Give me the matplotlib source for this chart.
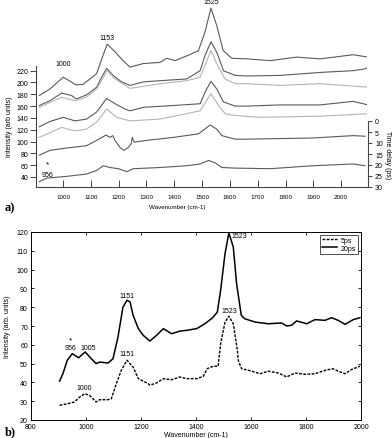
import numpy as np
import matplotlib
matplotlib.use("Agg")
from matplotlib import pyplot as plt

plt.rcParams['font.family'] = ['Liberation Sans', 'DejaVu Sans']

# ---- panel a: waterfall spectra (wavenumber, intensity incl. offset)
a_w1 = [915, 953, 1001, 1047, 1073, 1121, 1144, 1159, 1187, 1216, 1241, 1288, 1349, 1373,
        1403, 1450, 1487, 1511, 1532, 1553, 1576, 1607, 1661, 1745, 1841, 1924, 2043, 2097]
a_i1 = [178, 189, 209, 196, 197, 215, 246, 265, 252, 237, 226, 232, 234, 241,
        237, 246, 254, 286, 326, 296, 254, 241, 240, 237, 243, 240, 247, 243]
a_w2 = [915, 953, 995, 1031, 1047, 1085, 1121, 1139, 1157, 1180, 1211, 1241, 1289, 1349,
        1445, 1493, 1511, 1532, 1553, 1577, 1619, 1661, 1781, 1924, 2043, 2086, 2097]
a_i2 = [161, 169, 182, 178, 172, 179, 192, 209, 224, 212, 201, 195, 201, 203,
        206, 220, 246, 269, 251, 220, 212, 211, 212, 217, 220, 223, 226]
a_w3 = [915, 995, 1043, 1085, 1121, 1159, 1187, 1241, 1349, 1445, 1493, 1532, 1559, 1583,
        1619, 1661, 1781, 1924, 2097]
a_i3 = [158, 175, 169, 175, 189, 220, 206, 190, 198, 203, 209, 254, 226, 206,
        198, 198, 195, 198, 192]
a_w4 = [915, 953, 1001, 1043, 1085, 1121, 1157, 1187, 1223, 1241, 1289, 1397, 1493, 1511,
        1532, 1553, 1577, 1619, 1661, 1781, 1924, 2043, 2097]
a_i4 = [125, 134, 141, 135, 138, 150, 173, 164, 155, 152, 158, 161, 164, 184,
        202, 189, 167, 160, 160, 162, 162, 168, 162]
a_w5 = [915, 995, 1043, 1085, 1121, 1157, 1193, 1241, 1349, 1493, 1532, 1559, 1583, 1619,
        1709, 1924, 2097]
a_i5 = [107, 124, 118, 121, 133, 155, 141, 135, 138, 152, 181, 161, 147, 144,
        141, 143, 147]
a_w6 = [915, 953, 1013, 1085, 1121, 1155, 1169, 1179, 1187, 1205, 1219, 1235, 1245, 1249,
        1256, 1301, 1397, 1487, 1529, 1553, 1571, 1619, 1661, 1899, 2043, 2086]
a_i6 = [77, 85, 89, 93, 102, 111, 107, 110, 102, 90, 85, 90, 96, 107,
        99, 102, 107, 113, 128, 121, 110, 104, 104, 106, 110, 109]
a_w7 = [915, 941, 1013, 1085, 1121, 1145, 1169, 1199, 1229, 1253, 1349, 1445, 1493, 1523,
        1547, 1571, 1619, 1745, 1899, 2043, 2086]
a_i7 = [32, 38, 41, 45, 51, 59, 56, 54, 49, 54, 56, 59, 62, 68,
        64, 56, 55, 54, 59, 62, 59]

a_traces = [(a_w1, a_i1, 'dark'), (a_w2, a_i2, 'dark'), (a_w3, a_i3, 'light'),
            (a_w4, a_i4, 'dark'), (a_w5, a_i5, 'light'), (a_w6, a_i6, 'dark'),
            (a_w7, a_i7, 'dark')]
a_yticks = [40, 60, 80, 100, 120, 140, 160, 180, 200, 220]
a_xticks = [1000, 1100, 1200, 1300, 1400, 1500, 1600, 1700, 1800, 1900, 2000]
delay_ticks = [0, 5, 10, 15, 20, 25, 30]

# ---- panel b
b_w20 = [905, 917, 933, 951, 974, 998, 1020, 1038, 1051, 1081, 1099, 1117, 1135, 1150,
         1161, 1172, 1191, 1209, 1233, 1257, 1282, 1312, 1342, 1367, 1403, 1433, 1461, 1478,
         1490, 1506, 1520, 1536, 1548, 1565, 1577, 1615, 1662, 1712, 1730, 1748, 1766, 1803,
         1833, 1869, 1893, 1917, 1942, 1972, 1996]
b_i20 = [40.7, 44.6, 51.8, 55.3, 53.1, 56.2, 52.6, 50.0, 50.8, 50.3, 52.6, 64.0, 80.0, 83.7,
         82.8, 75.7, 68.6, 65.0, 62.0, 65.0, 68.6, 65.9, 67.3, 67.7, 68.6, 71.2, 74.4, 77.4,
         89.0, 108.5, 119.5, 112.0, 92.5, 75.7, 73.9, 72.1, 71.2, 71.6, 70.0, 70.4, 72.7, 71.2,
         73.4, 73.0, 74.4, 73.0, 70.9, 73.4, 74.4]
b_w5 = [905, 935, 959, 978, 996, 1014, 1038, 1051, 1081, 1093, 1111, 1129, 1150, 1172,
        1191, 1227, 1233, 1257, 1282, 1312, 1342, 1367, 1403, 1427, 1441, 1463, 1481, 1490,
        1506, 1520, 1536, 1551, 1554, 1566, 1603, 1633, 1663, 1699, 1730, 1760, 1796, 1833,
        1869, 1898, 1917, 1942, 1965, 1996]
b_i5 = [27.8, 28.7, 29.6, 32.2, 34.0, 33.1, 29.6, 30.8, 30.8, 31.3, 39.3, 46.4, 51.8, 48.2,
        42.0, 39.3, 38.5, 39.7, 42.0, 41.4, 42.9, 42.0, 42.0, 43.2, 47.3, 48.6, 48.6, 60.6,
        72.1, 75.2, 71.2, 57.0, 51.8, 47.3, 46.0, 44.6, 46.0, 45.0, 42.9, 45.0, 44.3, 44.6,
        46.4, 47.3, 46.0, 44.6, 46.8, 48.6]

W, H = 392, 439
fig = plt.figure(figsize=(W / 100, H / 100), dpi=100)

# ---------------- panel a
ax = fig.add_axes([36 / W, 1 - 188 / H, 331 / W, 186 / H])
kol = {'dark': '#5a5a5a', 'light': '#b4b4b4'}
for w, i, k in a_traces:
    ax.plot(w, i, color=kol[k], lw=0.8)
ax.set_xlim(903, 2093)
ax.set_ylim(23, 338)
ax.spines['top'].set_visible(False)
ax.spines['right'].set_visible(False)
ax.spines['left'].set_bounds(23, 228)
ax.spines['left'].set_color('#444444')
ax.spines['bottom'].set_color('#444444')
ax.spines['left'].set_linewidth(0.8)
ax.spines['bottom'].set_linewidth(0.8)
ax.set_xticks(a_xticks)
ax.set_yticks(a_yticks)
ax.tick_params(axis='x', direction='in', length=5, labelsize=4.5, pad=5, width=0.7, color='#444444')
ax.tick_params(axis='y', direction='out', length=4, labelsize=5, pad=1.5, width=0.7, color='#444444')
ax.text(1001, 227, '1000', fontsize=5, ha='center', va='bottom')
ax.text(1159, 271, '1153', fontsize=5, ha='center', va='bottom')
ax.text(1532, 331, '1525', fontsize=5, ha='center', va='bottom')
ax.text(946, 56, '*', fontsize=6, ha='center', va='bottom')
ax.text(946, 45, '956', fontsize=5, ha='center', va='center')
fig.text(177 / W, 1 - 208 / H, 'Wavenumber (cm-1)', fontsize=4.5, ha='center', va='center')
fig.text(10 / W, 1 - 127 / H, 'Intensity (arb units)', fontsize=5, ha='center', va='center',
         rotation=90)

# time delay axis
axt = fig.add_axes([368 / W, 1 - 188 / H, 0.0001, 66 / H])
for s in ['left', 'top', 'bottom']:
    axt.spines[s].set_visible(False)
axt.spines['right'].set_color('#444444')
axt.spines['right'].set_linewidth(0.8)
axt.set_xticks([])
axt.yaxis.tick_right()
axt.yaxis.set_label_position('right')
axt.set_ylim(30, 0)
axt.set_yticks(delay_ticks)
axt.tick_params(axis='y', direction='out', length=3, labelsize=5, pad=2, width=0.7, color='#444444')
axt.set_ylabel('Time delay (ps)', fontsize=5, rotation=270, labelpad=6)

fig.text(5 / W, 1 - 208 / H, 'a)', fontsize=9, fontweight='bold', family='Liberation Serif',
         ha='left', va='center')

# ---------------- panel b
bx = fig.add_axes([30.7 / W, 1 - 421 / H, 330.3 / W, 188 / H])
bx.plot(b_w5, b_i5, color='black', lw=1.0, ls=(0, (2, 1)), label='5ps')
bx.plot(b_w20, b_i20, color='black', lw=1.1, label='20ps')
bx.set_xlim(800, 2000)
bx.set_ylim(20, 120)
bx.set_xticks(np.arange(800, 2001, 200))
bx.set_yticks(np.arange(20, 121, 10))
bx.tick_params(direction='in', length=2.5, labelsize=5, top=True, right=True, width=0.6, pad=2)
for s in bx.spines.values():
    s.set_linewidth(0.7)
bx.set_xlabel('Wavenumber (cm-1)', fontsize=5, labelpad=1)
bx.set_ylabel('Intensity (arb. units)', fontsize=5, labelpad=4)
bx.text(945, 60.5, '*', fontsize=6, ha='center', va='bottom')
bx.text(946, 58.5, '956', fontsize=5, ha='center', va='center')
bx.text(1008, 58.5, '1005', fontsize=5, ha='center', va='center')
bx.text(1150, 84.5, '1151', fontsize=5, ha='center', va='bottom')
bx.text(994, 35.5, '1000', fontsize=5, ha='center', va='bottom')
bx.text(1151, 53.5, '1151', fontsize=5, ha='center', va='bottom')
bx.text(1530, 118, '1523', fontsize=5, ha='left', va='center')
bx.text(1520, 76.5, '1523', fontsize=5, ha='center', va='bottom')
leg = bx.legend(loc='upper right', fontsize=5, frameon=True, fancybox=False, handlelength=2.2,
                borderpad=0.3, labelspacing=0.1, handletextpad=0.5, borderaxespad=0.4)
leg.get_frame().set_edgecolor('black')
leg.get_frame().set_linewidth(0.6)

fig.text(5 / W, 1 - 432 / H, 'b)', fontsize=9, fontweight='bold', family='Liberation Serif',
         ha='left', va='center')

fig.savefig('out.png', dpi=100)
